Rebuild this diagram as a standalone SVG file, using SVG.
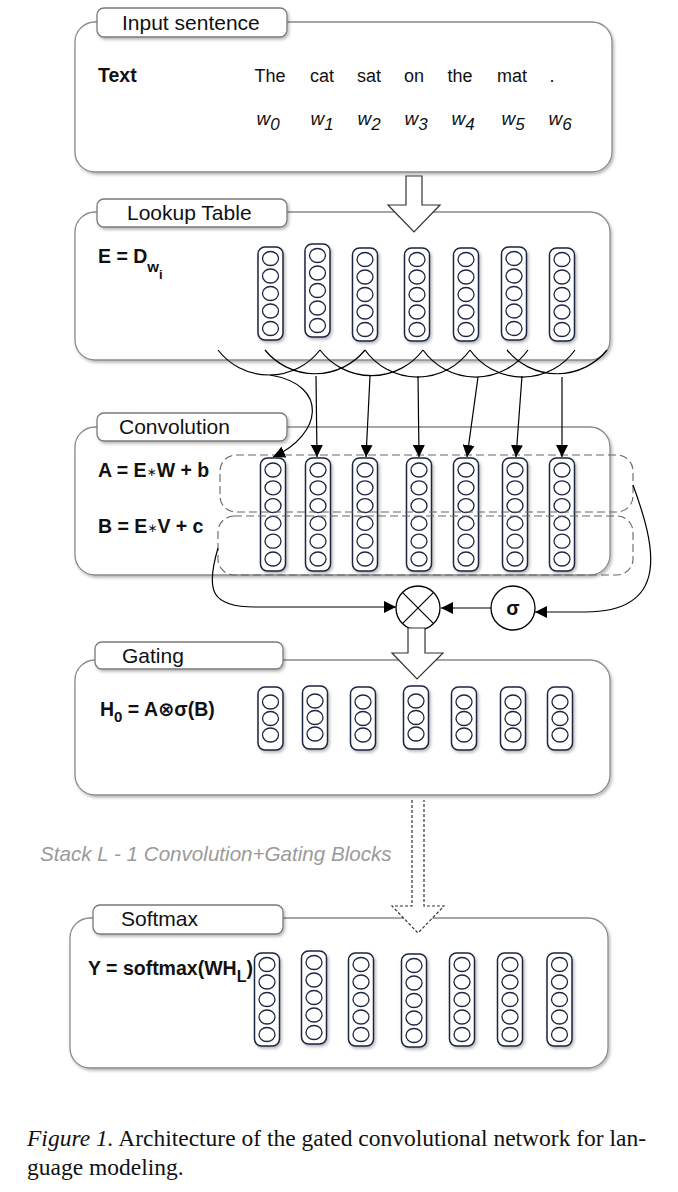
<svg xmlns="http://www.w3.org/2000/svg" xmlns:xlink="http://www.w3.org/1999/xlink" width="678" height="1192" viewBox="0 0 678 1192">
<style>
.box{fill:#fff;stroke:#8a8a8a;stroke-width:1.3}
.tab{fill:#fff;stroke:#7a7a7a;stroke-width:1.3}
.lbl{font-family:"Liberation Sans",Arial,sans-serif;font-size:21px;fill:#111}
.word{font-family:"Liberation Sans",Arial,sans-serif;font-size:18px;fill:#111;text-anchor:middle}
.wi{font-family:"Liberation Sans",Arial,sans-serif;font-size:19px;font-style:italic;fill:#111;text-anchor:middle}
.f{font-family:"Liberation Sans",Arial,"DejaVu Sans",sans-serif;font-size:19.5px;font-weight:bold;fill:#111}
.colr{fill:#fff;stroke:#1c2541;stroke-width:1.5}
.cir{fill:#fff;stroke:#1c2541;stroke-width:1.3}
.dash{fill:none;stroke:#666;stroke-width:1.1;stroke-dasharray:8 4}
.arc{fill:none;stroke:#000;stroke-width:1.2}
.ln{fill:none;stroke:#000;stroke-width:1.2}
.hollow{fill:#fff;stroke:#333;stroke-width:1.2}
.op{fill:#fff;stroke:#000;stroke-width:1.3}
.cap{font-family:"Liberation Serif","Times New Roman",serif;font-size:23.5px;fill:#111}
</style>
<defs>
<filter id="sh" x="-20%" y="-20%" width="140%" height="140%">
<feDropShadow dx="1.5" dy="2" stdDeviation="1.5" flood-color="#000" flood-opacity="0.28"/>
</filter>
<marker id="ah" markerWidth="12" markerHeight="12" viewBox="0 0 12 12" refX="12" refY="6" orient="auto" markerUnits="userSpaceOnUse">
<path d="M0,0 L12,6 L0,12 z" fill="#000"/>
</marker>
<g id="c5">
<rect class="colr" x="-12.5" y="0" width="25" height="93" rx="7" filter="url(#sh)"/>
<ellipse class="cir" cx="0" cy="11.5" rx="8" ry="7"/>
<ellipse class="cir" cx="0" cy="29" rx="8" ry="7"/>
<ellipse class="cir" cx="0" cy="46.5" rx="8" ry="7"/>
<ellipse class="cir" cx="0" cy="64" rx="8" ry="7"/>
<ellipse class="cir" cx="0" cy="81.5" rx="8" ry="7"/>
</g>
<g id="c6">
<rect class="colr" x="-12.5" y="0" width="25" height="113" rx="7" filter="url(#sh)"/>
<ellipse class="cir" cx="0" cy="12" rx="8" ry="7"/>
<ellipse class="cir" cx="0" cy="29.8" rx="8" ry="7"/>
<ellipse class="cir" cx="0" cy="47.6" rx="8" ry="7"/>
<ellipse class="cir" cx="0" cy="65.4" rx="8" ry="7"/>
<ellipse class="cir" cx="0" cy="83.2" rx="8" ry="7"/>
<ellipse class="cir" cx="0" cy="101" rx="8" ry="7"/>
</g>
<g id="c3">
<rect class="colr" x="-12.5" y="0" width="25" height="63" rx="7" filter="url(#sh)"/>
<ellipse class="cir" cx="0" cy="15" rx="8" ry="7"/>
<ellipse class="cir" cx="0" cy="31.5" rx="8" ry="7"/>
<ellipse class="cir" cx="0" cy="48" rx="8" ry="7"/>
</g>
</defs>
<rect width="678" height="1192" fill="#fff"/>

<g id="input-sentence">
<rect class="box" x="75" y="22" width="537" height="150" rx="20" filter="url(#sh)"/>
<rect class="tab" x="97" y="8" width="190" height="29" rx="7" filter="url(#sh)"/>
<text class="lbl" x="122" y="30">Input sentence</text>
<text class="f" x="98" y="82" font-size="18.5">Text</text>
<text class="word" x="270" y="82">The</text>
<text class="word" x="322" y="82">cat</text>
<text class="word" x="369" y="82">sat</text>
<text class="word" x="414" y="82">on</text>
<text class="word" x="460" y="82">the</text>
<text class="word" x="512" y="82">mat</text>
<text class="word" x="552" y="82">.</text>
<text class="wi" x="268" y="125">w<tspan font-size="17" dy="5">0</tspan></text>
<text class="wi" x="322" y="125">w<tspan font-size="17" dy="5">1</tspan></text>
<text class="wi" x="369" y="125">w<tspan font-size="17" dy="5">2</tspan></text>
<text class="wi" x="416" y="125">w<tspan font-size="17" dy="5">3</tspan></text>
<text class="wi" x="463" y="125">w<tspan font-size="17" dy="5">4</tspan></text>
<text class="wi" x="513" y="125">w<tspan font-size="17" dy="5">5</tspan></text>
<text class="wi" x="560" y="125">w<tspan font-size="17" dy="5">6</tspan></text>
</g>

<g id="lookup-table">
<rect class="box" x="75" y="212" width="535" height="148" rx="20" filter="url(#sh)"/>
<rect class="tab" x="97" y="199" width="190" height="28" rx="7" filter="url(#sh)"/>
<text class="lbl" x="127" y="220">Lookup Table</text>
<text class="f" x="98" y="263">E = D<tspan font-size="15" dy="9">w</tspan><tspan font-size="13" dy="7">i</tspan></text>
<use xlink:href="#c5" x="270.5" y="247"/>
<use xlink:href="#c5" x="317.5" y="244"/>
<use xlink:href="#c5" x="365" y="248"/>
<use xlink:href="#c5" x="417" y="248"/>
<use xlink:href="#c5" x="466" y="248"/>
<use xlink:href="#c5" x="514" y="247"/>
<use xlink:href="#c5" x="562" y="248"/>
</g>

<g id="convolution">
<rect class="box" x="75" y="427" width="535" height="148" rx="20" filter="url(#sh)"/>
<rect class="tab" x="97" y="413" width="190" height="28" rx="7" filter="url(#sh)"/>
<text class="lbl" x="119" y="434">Convolution</text>
<text class="f" x="98" y="477">A = E<tspan font-size="12" font-weight="normal" dy="-1">∗</tspan><tspan dy="1">W + b</tspan></text>
<text class="f" x="98" y="533">B = E<tspan font-size="12" font-weight="normal" dy="-1">∗</tspan><tspan dy="1">V + c</tspan></text>
<use xlink:href="#c6" x="273" y="458"/>
<use xlink:href="#c6" x="318" y="458"/>
<use xlink:href="#c6" x="365" y="458"/>
<use xlink:href="#c6" x="419" y="458"/>
<use xlink:href="#c6" x="466" y="458"/>
<use xlink:href="#c6" x="515" y="458"/>
<use xlink:href="#c6" x="562" y="458"/>
<rect id="conv-a" class="dash" x="220" y="455" width="413" height="57" rx="16"/>
<rect id="conv-b" class="dash" x="218" y="516" width="415" height="59" rx="16"/>
</g>

<g id="multiply">
<circle class="op" cx="418" cy="608" r="22"/>
<path class="ln" d="M402.4,592.4 L433.6,623.6 M433.6,592.4 L402.4,623.6"/>
</g>

<g id="sigma">
<circle class="op" cx="513" cy="608" r="22"/>
<text class="f" x="513" y="615" font-size="22" text-anchor="middle">σ</text>
</g>

<g id="gating">
<rect class="box" x="75" y="660" width="535" height="135" rx="20" filter="url(#sh)"/>
<rect class="tab" x="95" y="642" width="188" height="27" rx="7" filter="url(#sh)"/>
<text class="lbl" x="122" y="663">Gating</text>
<text class="f" x="100" y="716">H<tspan font-size="15" dy="6">0</tspan><tspan dy="-6"> = A⊗σ(B)</tspan></text>
<use xlink:href="#c3" x="270.5" y="687"/>
<use xlink:href="#c3" x="315" y="686"/>
<use xlink:href="#c3" x="363" y="687"/>
<use xlink:href="#c3" x="416" y="686"/>
<use xlink:href="#c3" x="464" y="687"/>
<use xlink:href="#c3" x="513" y="687"/>
<use xlink:href="#c3" x="560" y="687"/>
</g>

<text id="stack-label" x="40" y="861" font-family="'Liberation Sans',Arial,sans-serif" font-size="20.6" font-style="italic" fill="#9a9a9a">Stack L - 1 Convolution+Gating Blocks</text>

<g id="softmax">
<rect class="box" x="70" y="918" width="538" height="150" rx="20" filter="url(#sh)"/>
<rect class="tab" x="93" y="905" width="190" height="29" rx="7" filter="url(#sh)"/>
<text class="lbl" x="121" y="926">Softmax</text>
<text class="f" x="88" y="975">Y = softmax(WH<tspan font-size="16" dy="7">L</tspan><tspan dy="-7">)</tspan></text>
<use xlink:href="#c5" x="267" y="953"/>
<use xlink:href="#c5" x="314" y="951"/>
<use xlink:href="#c5" x="361" y="953"/>
<use xlink:href="#c5" x="414" y="954"/>
<use xlink:href="#c5" x="462" y="953"/>
<use xlink:href="#c5" x="510" y="953"/>
<use xlink:href="#c5" x="559.5" y="953"/>
</g>

<g id="connectors">
<path class="hollow" d="M406,176 H422 V205 H440 L414,232 L388,205 H406 Z"/>
<path class="arc" d="M218,350 A64.5,64.5 0 0 0 320,350"/>
<path class="arc" d="M265,350 A64.5,64.5 0 0 0 365,350"/>
<path class="arc" d="M320,350 A64.5,64.5 0 0 0 423,350"/>
<path class="arc" d="M365,350 A64.5,64.5 0 0 0 470,350"/>
<path class="arc" d="M423,350 A64.5,64.5 0 0 0 528,350"/>
<path class="arc" d="M470,350 A64.5,64.5 0 0 0 575,350"/>
<path class="arc" d="M507,350 A64.5,64.5 0 0 0 607,350"/>
<path class="ln" marker-end="url(#ah)" d="M270,375 C330,385 322,435 273,457"/>
<path class="ln" marker-end="url(#ah)" d="M316,376 L317,457"/>
<path class="ln" marker-end="url(#ah)" d="M370,376 L366,457"/>
<path class="ln" marker-end="url(#ah)" d="M418,376 L419,457"/>
<path class="ln" marker-end="url(#ah)" d="M478,377 L467,457"/>
<path class="ln" marker-end="url(#ah)" d="M522,376 L516,457"/>
<path class="ln" marker-end="url(#ah)" d="M562,377 L562,457"/>
<path class="ln" marker-end="url(#ah)" d="M218,548 C205,592 212,607 255,607 L396,607"/>
<path class="ln" marker-end="url(#ah)" d="M491,608 L441,608"/>
<path class="ln" marker-end="url(#ah)" d="M633,485 C655,545 672,612 585,612 L535,612"/>
<path class="hollow" d="M408,628 H425 V653 H443 L417,679 L392,653 H408 Z"/>
<path class="hollow" stroke-dasharray="3 2" d="M412,800 V906 H392 L418,933 L444,906 H424 V800"/>
</g>

<g id="caption">
<text class="cap" x="27" y="1146"><tspan font-style="italic">Figure 1.</tspan> Architecture of the gated convolutional network for lan-</text>
<text class="cap" x="27" y="1175">guage modeling.</text>
</g>
</svg>
